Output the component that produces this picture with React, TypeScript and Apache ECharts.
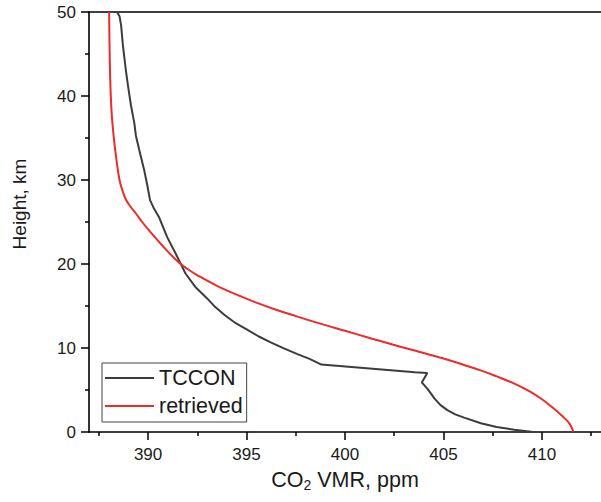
import React, { useEffect, useRef } from "react";
import * as echarts from "echarts";

const tcconVmr = [388.42, 388.55, 388.63, 388.72, 388.8, 388.88, 389.0, 389.13, 389.3, 389.38, 389.55, 389.8, 389.95, 390.1, 390.3, 390.55, 390.97, 391.4, 391.9, 392.4, 393.0, 393.4, 393.9, 394.45, 395.05, 395.6, 396.2, 396.9, 397.55, 398.2, 398.8, 403.55, 404.18, 403.9, 404.2, 404.55, 404.85, 405.2, 405.6, 406.05, 406.9, 407.7, 408.6, 409.55];
const tcconHeight = [50, 49.5, 48.4, 46.1, 44.5, 42.9, 40.9, 38.9, 36.8, 35.3, 33.6, 31.2, 29.5, 27.6, 26.6, 25.6, 23.2, 21.25, 18.87, 17.27, 15.9, 14.9, 13.9, 12.95, 12.15, 11.4, 10.7, 9.95, 9.3, 8.7, 8.03, 7.1, 7.03, 5.9, 5.1, 3.97, 3.2, 2.6, 2.1, 1.71, 1.05, 0.6, 0.28, 0.0];

const retrievedVmr = [388.02, 388.05, 388.09, 388.15, 388.24, 388.35, 388.55, 388.72, 388.9, 389.15, 389.4, 389.7, 390.05, 390.8, 391.55, 392.0, 392.55, 393.5, 394.5, 395.5, 396.5, 397.5, 398.75, 400.0, 401.25, 402.5, 403.75, 405.0, 406.05, 407.0, 407.7, 408.6, 409.4, 410.0, 410.4, 410.8, 411.05, 411.4, 411.6];
const retrievedHeight = [50, 45, 41, 38, 35.5, 33.2, 30.0, 28.6, 27.55, 26.7, 25.95, 25.0, 24.0, 22.0, 20.2, 19.4, 18.6, 17.4, 16.35, 15.4, 14.55, 13.8, 12.9, 12.05, 11.2, 10.35, 9.55, 8.75, 7.98, 7.25, 6.62, 5.75, 4.8, 3.9, 3.18, 2.4, 1.87, 1.0, 0];

const xMajorTicks = [390, 395, 400, 405, 410];
const xMinorTicks = [387.5, 392.5, 397.5, 402.5, 407.5, 412.5];
const seriesNames = ["TCCON", "retrieved"];

const FONT = "'Liberation Sans', Arial, sans-serif";
const TEXT = "#1a1a1a";

export default function App() {
  const ref = useRef<HTMLDivElement>(null);
  useEffect(() => {
    if (!ref.current) return;
    const chart = echarts.init(ref.current, undefined, { renderer: "svg" });
    const axisLine = { show: true, lineStyle: { color: "#000", width: 1.6 } };
    const xCommon = { type: "value", min: 387, max: 413, splitLine: { show: false } };
    chart.setOption({
      animation: false,
      backgroundColor: "#fff",
      textStyle: { fontFamily: FONT },
      grid: { left: 89, top: 12, right: -8, bottom: 70 },
      legend: {
        data: seriesNames,
        orient: "vertical",
        left: 102,
        top: 363,
        icon: "rect",
        itemWidth: 49,
        itemHeight: 2,
        itemGap: 6,
        padding: [4, 4, 5, 3],
        borderColor: "#444",
        borderWidth: 1,
        backgroundColor: "#fff",
        textStyle: { fontSize: 21.5, lineHeight: 21, color: TEXT, fontFamily: FONT },
      },
      xAxis: [
        {
          ...xCommon,
          position: "bottom",
          axisLine,
          axisTick: { show: true, inside: false, length: 8, customValues: xMajorTicks, lineStyle: { color: "#000", width: 1.5 } },
          axisLabel: { customValues: xMajorTicks, fontSize: 17, margin: 14, color: TEXT, fontFamily: FONT },
          name: "{a|CO}{b|2}{a| VMR, ppm}",
          nameLocation: "middle",
          nameGap: 30,
          nameTextStyle: {
            rich: {
              a: { fontSize: 21.5, lineHeight: 24, color: TEXT, fontFamily: FONT },
              b: { fontSize: 14, lineHeight: 24, padding: [10, 0, 0, 0], color: TEXT, fontFamily: FONT },
            },
          },
        },
        {
          ...xCommon,
          position: "bottom",
          axisLine: { show: false },
          axisTick: { show: true, inside: false, length: 4, customValues: xMinorTicks, lineStyle: { color: "#000", width: 1.5 } },
          axisLabel: { show: false },
        },
        {
          ...xCommon,
          position: "top",
          axisLine,
          axisTick: { show: false },
          axisLabel: { show: false },
        },
      ],
      yAxis: {
        type: "value",
        min: 0,
        max: 50,
        interval: 10,
        axisLine,
        splitLine: { show: false },
        axisTick: { show: true, inside: false, length: 8, lineStyle: { color: "#000", width: 1.5 } },
        minorTick: { show: true, splitNumber: 2, length: 4, lineStyle: { color: "#000", width: 1.5 } },
        axisLabel: { fontSize: 17, margin: 13, color: TEXT, fontFamily: FONT },
        name: "Height, km",
        nameLocation: "middle",
        nameGap: 60,
        nameTextStyle: { fontSize: 19, color: TEXT, fontFamily: FONT, padding: [0, 0, 0, 36] },
      },
      series: [
        {
          name: seriesNames[0],
          type: "line",
          xAxisIndex: 0,
          showSymbol: false,
          symbol: "none",
          lineStyle: { color: "#3c3c3c", width: 2 },
          itemStyle: { color: "#3c3c3c" },
          data: tcconVmr.map((v, i) => [v, tcconHeight[i]]),
        },
        {
          name: seriesNames[1],
          type: "line",
          xAxisIndex: 0,
          showSymbol: false,
          symbol: "none",
          smooth: 0.4,
          lineStyle: { color: "#ee2a2a", width: 2 },
          itemStyle: { color: "#ee2a2a" },
          data: retrievedVmr.map((v, i) => [v, retrievedHeight[i]]),
        },
      ],
    });
    return () => chart.dispose();
  }, []);
  return (
    <div
      ref={ref}
      style={{ position: "fixed", left: 0, top: 0, width: 601, height: 502, background: "#fff" }}
    />
  );
}
